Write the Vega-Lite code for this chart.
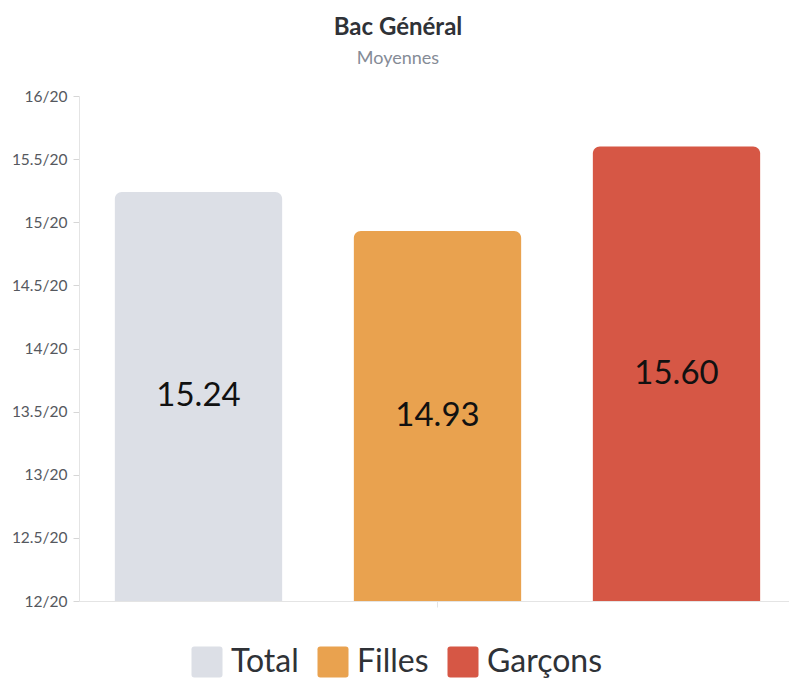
{
  "$schema": "https://vega.github.io/schema/vega-lite/v6.json",
  "width": 710,
  "height": 505,
  "autosize": "none",
  "padding": {"left": 79, "top": 96, "right": 0, "bottom": 80},
  "background": "#ffffff",
  "title": {
    "text": "Bac Général",
    "subtitle": "Moyennes",
    "anchor": "middle",
    "frame": "group",
    "dx": -36,
    "offset": 21,
    "font": "Lato",
    "fontSize": 24,
    "fontWeight": "bold",
    "color": "#2f3237",
    "subtitleFont": "Lato",
    "subtitleFontSize": 18,
    "subtitleColor": "#858b96",
    "subtitlePadding": 10
  },
  "data": {
    "values": [
      {"categorie": "Total", "moyenne": 15.24, "label": "15.24"},
      {"categorie": "Filles", "moyenne": 14.93, "label": "14.93"},
      {"categorie": "Garçons", "moyenne": 15.60, "label": "15.60"}
    ]
  },
  "encoding": {
    "x": {
      "field": "categorie",
      "type": "nominal",
      "sort": ["Total", "Filles", "Garçons"],
      "scale": {"range": [0, 717], "paddingInner": 0.3, "paddingOuter": 0.15},
      "axis": {
        "title": null,
        "labels": false,
        "values": ["Filles"],
        "ticks": true,
        "tickSize": 6,
        "tickColor": "#e4e4e4",
        "domainColor": "#e4e4e4",
        "grid": false
      }
    }
  },
  "layer": [
    {
      "mark": {"type": "bar", "cornerRadiusTopLeft": 7, "cornerRadiusTopRight": 7},
      "encoding": {
        "y": {
          "field": "moyenne",
          "type": "quantitative",
          "scale": {"domain": [12, 16], "nice": false, "zero": false},
          "axis": {
            "title": null,
            "values": [12, 12.5, 13, 13.5, 14, 14.5, 15, 15.5, 16],
            "labelExpr": "datum.value + '/20'",
            "grid": false,
            "tickSize": 6,
            "tickColor": "#d6d6d6",
            "domainColor": "#e4e4e4",
            "labelFont": "Lato",
            "labelFontSize": 15.5,
            "labelFontWeight": "normal",
            "labelColor": "#55585e",
            "labelPadding": 6
          }
        },
        "y2": {"datum": 12},
        "color": {
          "field": "categorie",
          "type": "nominal",
          "sort": ["Total", "Filles", "Garçons"],
          "scale": {
            "domain": ["Total", "Filles", "Garçons"],
            "range": ["#dcdfe6", "#e9a24f", "#d65745"]
          },
          "legend": {
            "title": null,
            "orient": "none",
            "direction": "horizontal",
            "legendX": 112,
            "legendY": 550,
            "symbolType": "M-0.82,-1 L0.82,-1 Q1,-1 1,-0.82 L1,0.82 Q1,1 0.82,1 L-0.82,1 Q-1,1 -1,0.82 L-1,-0.82 Q-1,-1 -0.82,-1 Z",
            "symbolSize": 961,
            "symbolStrokeWidth": 0,
            "symbolOpacity": 1,
            "labelFont": "Lato",
            "labelFontSize": 32,
            "labelColor": "#2f3237",
            "labelOffset": 8,
            "labelLimit": 400,
            "columnPadding": 18,
            "padding": 0
          }
        }
      }
    },
    {
      "mark": {"type": "text", "font": "Lato", "fontSize": 33, "color": "#111111", "baseline": "middle", "align": "center"},
      "encoding": {
        "y": {
          "field": "moyenne",
          "type": "quantitative",
          "scale": {"domain": [12, 20], "nice": false, "zero": false},
          "axis": null
        },
        "text": {"field": "label"}
      }
    }
  ],
  "resolve": {"scale": {"y": "independent"}},
  "config": {
    "view": {"stroke": null},
    "font": "Lato"
  }
}
